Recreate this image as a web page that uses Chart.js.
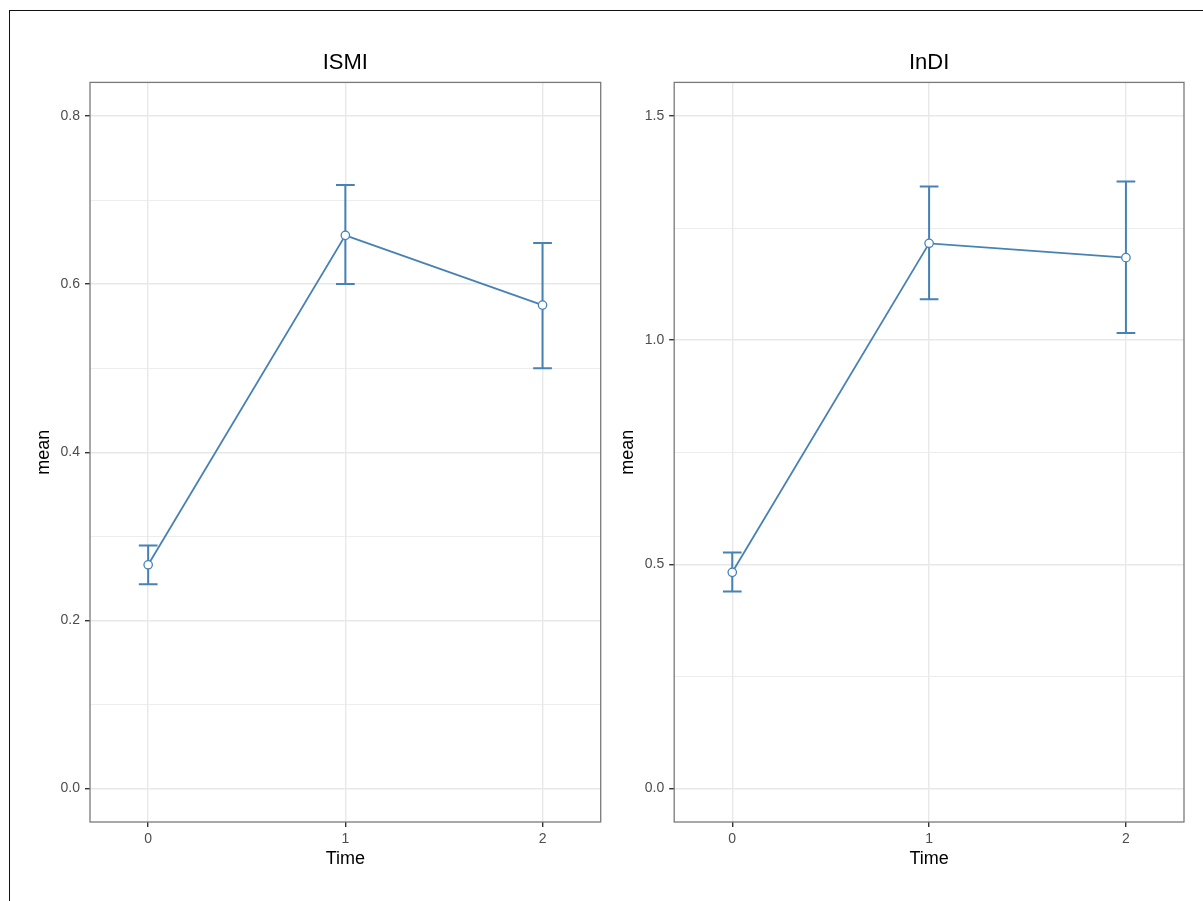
<!DOCTYPE html>
<html>
<head>
<meta charset="utf-8">
<script src="https://cdn.jsdelivr.net/npm/chart.js@4.4.1/dist/chart.umd.min.js"></script>
<style>
  body { margin: 0; background: #fff; }
  #frame { position: absolute; left: 9px; top: 10px; width: 1194px; height: 891px;
           border-left: 1.5px solid #111; border-top: 1.5px solid #111; }
  .panel { position: absolute; top: 0; height: 901px; }
  #p1 { left: 0; width: 610px; }
  #p2 { left: 610px; width: 593px; }
</style>
</head>
<body>
<div id="frame"></div>
<div class="panel" id="p1"><canvas id="chart-ismi"></canvas></div>
<div class="panel" id="p2"><canvas id="chart-indi"></canvas></div>
<script>
/* ------------------------------
 * data
 * ------------------------------ */
const TIMES = [0, 1, 2];
const X_TICKS = [0, 1, 2];

const ISMI_MEAN = [0.266, 0.658, 0.575];
const ISMI_LOW  = [0.243, 0.600, 0.500];
const ISMI_HIGH = [0.289, 0.718, 0.649];
const ISMI_TICKS = [0, 0.2, 0.4, 0.6, 0.8];
const ISMI_MINOR = [0.1, 0.3, 0.5, 0.7];

const INDI_MEAN = [0.482, 1.216, 1.184];
const INDI_LOW  = [0.439, 1.091, 1.016];
const INDI_HIGH = [0.526, 1.343, 1.354];
const INDI_TICKS = [0, 0.5, 1.0, 1.5];
const INDI_MINOR = [0.25, 0.75, 1.25];

const COLORS = {
  line: '#4682B4',
  grid: '#E8E8E8',
  border: '#7a7a7a',
  tick: '#333333',
  label: '#4D4D4D'
};
const FONT = '"Liberation Sans", Arial, Helvetica, sans-serif';

/* ------------------------------
 * plugins: error bars + panel border
 * ------------------------------ */
const errorBars = {
  id: 'errorBars',
  beforeDatasetsDraw(chart, args, opts) {
    const { ctx, scales: { x, y } } = chart;
    const half = Math.abs(x.getPixelForValue(opts.capWidth / 2) - x.getPixelForValue(0));
    ctx.save();
    ctx.strokeStyle = opts.color;
    ctx.lineWidth = opts.width;
    opts.low.forEach((lo, i) => {
      const px = x.getPixelForValue(TIMES[i]);
      const pLo = y.getPixelForValue(lo);
      const pHi = y.getPixelForValue(opts.high[i]);
      ctx.beginPath();
      ctx.moveTo(px, pLo); ctx.lineTo(px, pHi);
      ctx.moveTo(px - half, pLo); ctx.lineTo(px + half, pLo);
      ctx.moveTo(px - half, pHi); ctx.lineTo(px + half, pHi);
      ctx.stroke();
    });
    ctx.restore();
  }
};

const panelBorder = {
  id: 'panelBorder',
  afterDraw(chart) {
    const { ctx, chartArea: a } = chart;
    ctx.save();
    ctx.strokeStyle = COLORS.border;
    ctx.lineWidth = 1.3;
    ctx.strokeRect(a.left, a.top, a.right - a.left, a.bottom - a.top);
    ctx.restore();
  }
};

/* ------------------------------
 * chart builder
 * ------------------------------ */
function makeChart(id, title, mean, low, high, major, minor, yMin, yMax, padLeft, padRight, decimals) {
  const isMinor = (v) => minor.includes(v);
  return new Chart(document.getElementById(id), {
    type: 'line',
    plugins: [errorBars, panelBorder],
    data: {
      datasets: [{
        data: TIMES.map((t, i) => ({ x: t, y: mean[i] })),
        borderColor: COLORS.line,
        borderWidth: 1.8,
        pointRadius: 4.2,
        pointBorderWidth: 1.3,
        pointBackgroundColor: '#fff',
        pointBorderColor: COLORS.line,
        tension: 0
      }]
    },
    options: {
      responsive: true,
      maintainAspectRatio: false,
      animation: false,
      layout: { padding: { top: 0, left: padLeft, right: padRight, bottom: 19 } },
      scales: {
        x: {
          type: 'linear',
          min: -0.295,
          max: 2.295,
          afterBuildTicks: (s) => { s.ticks = X_TICKS.map(v => ({ value: v })); },
          afterFit: (s) => { s.height = 60; },
          grid: { color: COLORS.grid, lineWidth: 1.4, tickLength: 5, tickColor: COLORS.tick, tickWidth: 1.4 },
          border: { display: false },
          ticks: {
            autoSkip: false, maxRotation: 0, padding: 4,
            color: COLORS.label, font: { family: FONT, size: 14 },
            callback: (v) => String(v)
          },
          title: {
            display: true, text: 'Time', color: '#000',
            font: { family: FONT, size: 18 },
            padding: { top: 0, bottom: 12 }
          }
        },
        y: {
          min: yMin,
          max: yMax,
          afterBuildTicks: (s) => {
            s.ticks = major.concat(minor).sort((a, b) => a - b).map(v => ({ value: v }));
          },
          afterFit: (s) => { s.width = 57; },
          grid: {
            color: COLORS.grid,
            lineWidth: (c) => (c.tick && isMinor(c.tick.value) ? 0.8 : 1.4),
            tickLength: 5,
            tickColor: (c) => (c.tick && isMinor(c.tick.value) ? 'rgba(0,0,0,0)' : COLORS.tick),
            tickWidth: 1.4
          },
          border: { display: false },
          ticks: {
            autoSkip: false, padding: 5,
            color: COLORS.label, font: { family: FONT, size: 14 },
            callback: (v) => (isMinor(v) ? '' : v.toFixed(decimals))
          },
          title: {
            display: true, text: 'mean', color: '#000',
            font: { family: FONT, size: 18 },
            padding: { top: 0, bottom: 0 }
          }
        }
      },
      plugins: {
        legend: { display: false },
        tooltip: { enabled: false },
        title: {
          display: true, text: title, color: '#000', fullSize: false,
          font: { family: FONT, size: 22, weight: 'normal' },
          padding: { top: 50, bottom: 6 }
        },
        errorBars: { low, high, color: COLORS.line, width: 2, capWidth: 0.095 }
      }
    }
  });
}

makeChart('chart-ismi', 'ISMI', ISMI_MEAN, ISMI_LOW, ISMI_HIGH, ISMI_TICKS, ISMI_MINOR, -0.04, 0.84, 33, 9.3, 1);
makeChart('chart-indi', 'InDI', INDI_MEAN, INDI_LOW, INDI_HIGH, INDI_TICKS, INDI_MINOR, -0.075, 1.575, 7.2, 19, 1);
</script>
</body>
</html>
